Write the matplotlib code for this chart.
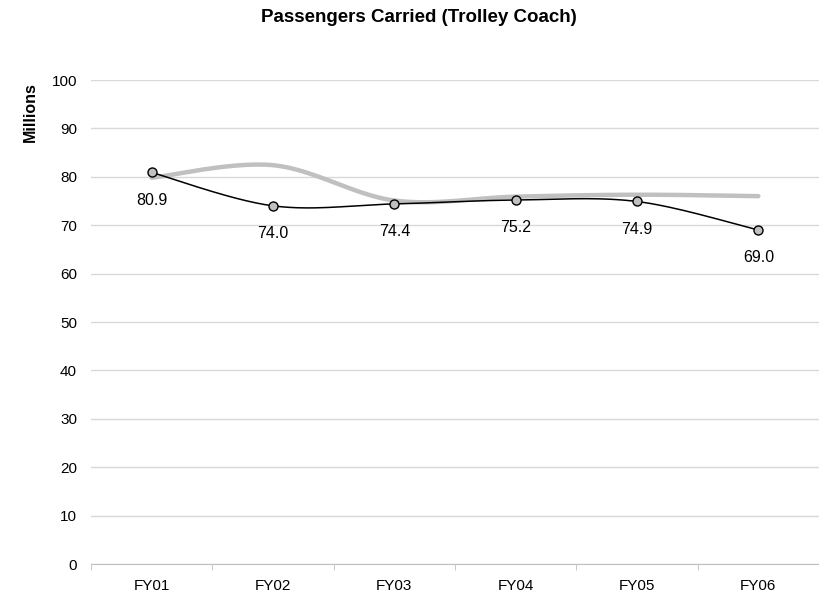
import numpy as np
import matplotlib
matplotlib.use("Agg")
import matplotlib.pyplot as plt

plt.rcParams['font.family'] = ['Liberation Sans', 'DejaVu Sans']

years = ["FY01", "FY02", "FY03", "FY04", "FY05", "FY06"]
actual = [80.9, 74.0, 74.4, 75.2, 74.9, 69.0]
# grey comparison line (no labels)
trend = [79.8, 82.4, 75.1, 75.9, 76.3, 76.0]


def smooth(xs, ys, n=30):
    # Excel-like smoothed line (Catmull-Rom as cubic Bezier)
    xs = np.asarray(xs, float)
    ys = np.asarray(ys, float)
    px = np.concatenate([[xs[0]], xs, [xs[-1]]])
    py = np.concatenate([[ys[0]], ys, [ys[-1]]])
    outx, outy = [], []
    t = np.linspace(0, 1, n)
    for i in range(1, len(px) - 2):
        p0 = np.array([px[i], py[i]])
        p3 = np.array([px[i + 1], py[i + 1]])
        c1 = p0 + (np.array([px[i + 1], py[i + 1]]) - np.array([px[i - 1], py[i - 1]])) / 6
        c2 = p3 - (np.array([px[i + 2], py[i + 2]]) - np.array([px[i], py[i]])) / 6
        b = ((1 - t) ** 3)[:, None] * p0 + (3 * (1 - t) ** 2 * t)[:, None] * c1 \
            + (3 * (1 - t) * t ** 2)[:, None] * c2 + (t ** 3)[:, None] * p3
        outx.extend(b[:, 0])
        outy.extend(b[:, 1])
    return outx, outy


x = np.arange(len(years))

fig = plt.figure(figsize=(8.19, 6.0), dpi=100)
ax = fig.add_axes([91 / 819, 1 - 564 / 600, 1 - 91 / 819, (564 - 80) / 600])

ax.set_ylim(0, 100)
ax.set_xlim(-0.5, 5.44)
ax.set_yticks(range(0, 101, 10))
ax.yaxis.grid(True, color='#d9d9d9', linewidth=1.0)
ax.set_axisbelow(True)

gx, gy = smooth(x, trend)
ax.plot(gx, gy, color='#c0c0c0', linewidth=3.2, solid_capstyle='round', zorder=2)

sx, sy = smooth(x, actual)
ax.plot(sx, sy, color='black', linewidth=1.1, zorder=3)
ax.plot(x, actual, linestyle='none', marker='o', markersize=6.5,
        markerfacecolor='#c0c0c0', markeredgecolor='black', markeredgewidth=1.0, zorder=4)

for xi, v in zip(x, actual):
    ax.annotate(f"{v:.1f}", (xi, v), xytext=(0, -20), textcoords='offset points',
                ha='center', va='center', fontsize=11.5, color='black')

for s in ['top', 'right', 'left']:
    ax.spines[s].set_visible(False)
ax.spines['bottom'].set_color('#bfbfbf')

ax.set_xticks(x)
ax.set_xticklabels(years, fontsize=11)
ax.set_xticks(np.arange(-0.5, 5.6, 1), minor=True)
ax.tick_params(axis='x', which='major', length=0, pad=11)
ax.tick_params(axis='x', which='minor', length=4, color='#bfbfbf')
ax.tick_params(axis='y', length=0, pad=10, labelsize=11)

fig.text(419 / 819, 1 - 18 / 600, "Passengers Carried (Trolley Coach)", ha='center', va='center',
         fontsize=13.5, fontweight='bold')
fig.text(30 / 819, 1 - 112 / 600, "Millions", rotation=90, ha='center', va='center',
         fontsize=11.5, fontweight='bold')

fig.savefig("out.png", dpi=100)
